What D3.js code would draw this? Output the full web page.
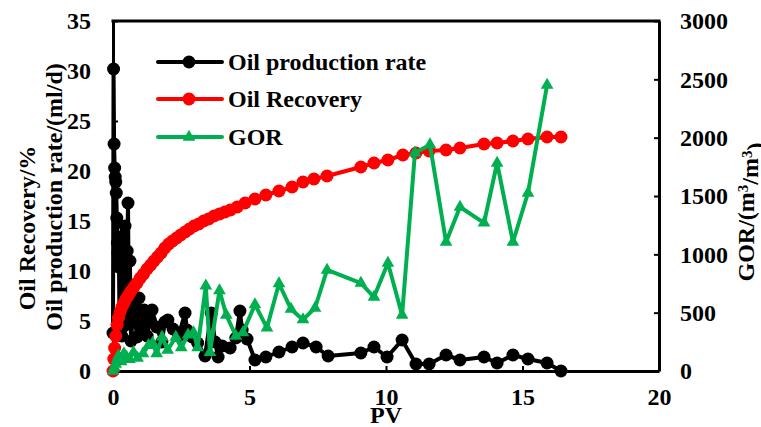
<!DOCTYPE html>
<html>
<head>
<meta charset="utf-8">
<script src="https://cdn.jsdelivr.net/npm/d3@7"></script>
<style>
  html, body { margin: 0; padding: 0; background: #fff; }
  svg { display: block; }
  text { font-family: "Liberation Serif", "Times New Roman", serif; font-weight: bold; fill: #000; }
</style>
</head>
<body>
<svg id="chart" width="761" height="427"></svg>
<script>
// ---------------- data ----------------
const ratePV = [0.00,0.02,0.04,0.06,0.08,0.10,0.12,0.14,0.16,0.18,0.20,0.22,0.24,0.28,0.32,0.36,0.40,0.44,0.48,0.52,0.55,0.58,0.62,0.66,0.75,0.88,0.95,1.05,1.14,1.25,1.36,1.43,1.60,1.79,1.90,2.01,2.20,2.40,2.64,2.71,2.90,3.10,3.37,3.60,3.74,3.85,4.00,4.29,4.50,4.65,4.73,4.91,5.20,5.60,6.08,6.56,6.96,7.44,7.88,9.08,9.56,10.04,10.59,11.10,11.58,12.20,12.71,13.59,14.07,14.65,15.20,15.90,16.41];
const rateVal = [3.8,30.2,22.7,20.3,19.4,18.9,17.8,15.3,12.8,11.8,10.9,10.4,4.0,12.5,3.5,13.5,4.5,14.5,5.0,12.0,16.8,6.0,11.0,3.0,6.5,3.4,7.3,4.0,6.1,3.5,5.1,6.1,4.4,2.9,4.9,5.1,4.2,3.5,5.8,4.1,3.4,2.8,1.5,5.8,2.9,1.4,2.5,2.3,3.3,6.0,4.1,3.2,1.1,1.4,1.9,2.4,2.8,2.4,1.5,1.8,2.4,1.4,3.1,0.7,0.7,1.6,1.1,1.4,0.8,1.6,1.2,0.8,0.0];

const recPV = [0,0.03,0.06,0.10,0.15,0.20,0.26,0.33,0.40,0.48,0.57,0.66,0.77,0.88,1.00,1.12,1.25,1.38,1.50,1.63,1.76,1.90,2.04,2.18,2.33,2.48,2.64,2.80,2.97,3.14,3.32,3.50,3.70,3.90,4.10,4.30,4.55,4.84,5.20,5.60,6.08,6.56,6.96,7.36,7.84,9.08,9.56,10.07,10.62,11.10,11.58,12.20,12.71,13.59,14.07,14.65,15.20,15.90,16.41];
const recVal = [0,1.2,2.3,3.5,4.6,5.3,5.9,6.4,6.8,7.2,7.6,8.0,8.4,8.8,9.3,9.7,10.2,10.6,11.0,11.4,11.8,12.3,12.7,13.0,13.3,13.6,13.9,14.2,14.5,14.7,15.0,15.2,15.5,15.7,15.9,16.1,16.4,16.8,17.2,17.6,18.0,18.4,18.9,19.2,19.5,20.4,20.8,21.1,21.6,21.8,22.0,22.1,22.3,22.7,22.8,23.0,23.2,23.4,23.4];

const gorPV = [0.00,0.05,0.10,0.15,0.20,0.30,0.40,0.50,0.60,0.75,0.90,1.10,1.30,1.45,1.60,1.80,2.00,2.30,2.50,2.75,2.95,3.10,3.40,3.55,3.90,4.15,4.50,4.76,5.20,5.64,6.08,6.52,6.96,7.40,7.84,9.08,9.56,10.07,10.59,11.06,11.61,12.20,12.71,13.59,14.07,14.65,15.20,15.90];
const gorVal = [0,30,60,100,130,80,150,120,100,160,110,150,220,240,150,290,180,290,200,310,330,200,730,160,690,480,300,330,570,370,750,530,440,540,866,754,634,926,480,1869,1940,1106,1406,1269,1783,1106,1526,2451];

const xTicks = [0,5,10,15,20];
const yLeftTicks = [0,5,10,15,20,25,30,35];
const yRightTicks = [0,500,1000,1500,2000,2500,3000];
const legendLabels = ["Oil production rate","Oil Recovery","GOR"];
const seriesColors = ["#000000","#FF0000","#00B050"];

// ---------------- layout ----------------
const svg = d3.select("#chart");
const L = 113, R = 659, T = 21, B = 371;
const x = d3.scaleLinear().domain([0,20]).range([L,R]);
const yL = d3.scaleLinear().domain([0,35]).range([B,T]);
const yR = d3.scaleLinear().domain([0,3000]).range([B,T]);

const fontSize = 24;
const titleSize = 24;

function styleAxis(g){
  g.selectAll("path.domain").attr("stroke","#000").attr("stroke-width",3);
  g.selectAll(".tick line").attr("stroke","#000").attr("stroke-width",2);
  g.selectAll("text").attr("font-size",fontSize)
    .attr("font-family","'Liberation Serif','Times New Roman',serif")
    .attr("font-weight","bold").attr("fill","#000");
}

svg.append("g").attr("transform",`translate(0,${B})`)
  .call(d3.axisBottom(x).tickValues(xTicks).tickSize(-5).tickSizeOuter(0).tickPadding(17).tickFormat(d3.format("d")))
  .call(styleAxis);

svg.append("g").attr("transform",`translate(${L},0)`)
  .call(d3.axisLeft(yL).tickValues(yLeftTicks).tickSize(-5).tickSizeOuter(0).tickPadding(22).tickFormat(d3.format("d")))
  .call(styleAxis);

svg.append("g").attr("transform",`translate(${R},0)`)
  .call(d3.axisRight(yR).tickValues(yRightTicks).tickSize(-5).tickSizeOuter(0).tickPadding(21).tickFormat(d3.format("d")))
  .call(styleAxis);

// top border
svg.append("line").attr("x1",L-1.5).attr("x2",R+1.5).attr("y1",T).attr("y2",T)
  .attr("stroke","#000").attr("stroke-width",3);

// axis titles
svg.append("text").attr("transform",`translate(27,228) rotate(-90)`)
  .attr("text-anchor","middle").attr("dy","0.35em").attr("font-size",titleSize)
  .text("Oil Recovery/%");
svg.append("text").attr("transform",`translate(54,197) rotate(-90)`)
  .attr("text-anchor","middle").attr("dy","0.35em").attr("font-size",titleSize)
  .text("Oil production rate/(ml/d)");
const gt = svg.append("text").attr("transform",`translate(746,212) rotate(-90)`)
  .attr("text-anchor","middle").attr("dy","0.35em").attr("font-size",titleSize);
gt.append("tspan").text("GOR/(m");
gt.append("tspan").attr("dy","-0.45em").attr("font-size",15).text("3");
gt.append("tspan").attr("dy","0.45em").text("/m");
gt.append("tspan").attr("dy","-0.45em").attr("font-size",15).text("3");
gt.append("tspan").attr("dy","0.45em").text(")");

svg.append("text").attr("x",x(10)).attr("y",423).attr("text-anchor","middle")
  .attr("font-size",fontSize).text("PV");

// series
const rateData = ratePV.map((p,i)=>({x:p,y:rateVal[i]}));
const recData = recPV.map((p,i)=>({x:p,y:recVal[i]}));
const gorData = gorPV.map((p,i)=>({x:p,y:gorVal[i]}));

const lineL = d3.line().x(d=>x(d.x)).y(d=>yL(d.y));
const lineR = d3.line().x(d=>x(d.x)).y(d=>yR(d.y));

function drawCircles(data, color){
  svg.append("path").datum(data).attr("d", lineL)
    .attr("fill","none").attr("stroke",color).attr("stroke-width",4).attr("stroke-linejoin","round");
  svg.append("g").selectAll("circle").data(data).join("circle")
    .attr("cx",d=>x(d.x)).attr("cy",d=>yL(d.y)).attr("r",6.5).attr("fill",color);
}
drawCircles(rateData, seriesColors[0]);
drawCircles(recData, seriesColors[1]);

svg.append("path").datum(gorData).attr("d",lineR)
  .attr("fill","none").attr("stroke",seriesColors[2]).attr("stroke-width",4).attr("stroke-linejoin","round");
const tri = d3.symbol().type(d3.symbolTriangle).size(70);
svg.append("g").selectAll("path").data(gorData).join("path")
  .attr("d",tri).attr("transform",d=>`translate(${x(d.x)},${yR(d.y)})`).attr("fill",seriesColors[2]);

// legend
const legY = [62, 99, 137];
legendLabels.forEach((lab,i)=>{
  const g = svg.append("g");
  g.append("line").attr("x1",158).attr("x2",222).attr("y1",legY[i]).attr("y2",legY[i])
    .attr("stroke",seriesColors[i]).attr("stroke-width",4).attr("stroke-linecap","round");
  if(i<2){
    g.append("circle").attr("cx",189).attr("cy",legY[i]).attr("r",6.5).attr("fill",seriesColors[i]);
  } else {
    g.append("path").attr("d",tri).attr("transform",`translate(189,${legY[i]})`).attr("fill",seriesColors[i]);
  }
  g.append("text").attr("x",228).attr("y",legY[i]).attr("dy","0.35em").attr("font-size",fontSize).text(lab);
});
</script>
</body>
</html>
